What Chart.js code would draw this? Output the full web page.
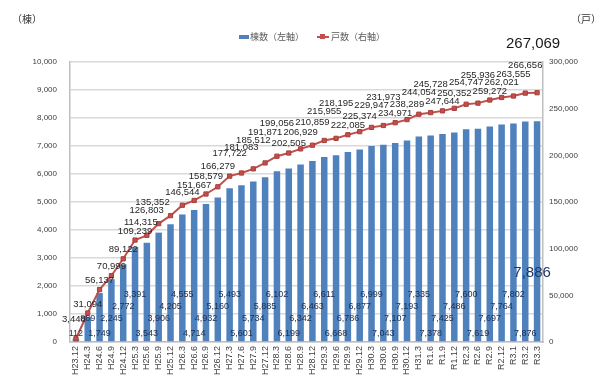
<!DOCTYPE html>
<html lang="ja">
<head>
<meta charset="UTF-8">
<title>棟数・戸数の推移</title>
<script src="https://cdn.jsdelivr.net/npm/chart.js"></script>
<style>
  html, body { margin: 0; padding: 0; background: #fff; }
  #wrap { position: relative; width: 600px; height: 383px; }
  #chart { position: absolute; left: 0; top: 0; }
  .unit { position: absolute; top: 11px; font: 10px "Noto Sans CJK JP"; color: #333; }
  .legend { position: absolute; top: 30px; font: 9px "Noto Sans CJK JP"; color: #595959; white-space: nowrap; }
  .legend span { position: absolute; top: 0; }
</style>
</head>
<body>
<div id="wrap">
  <canvas id="chart" width="600" height="383"></canvas>
  <div class="unit" style="left:12px;">（棟）</div>
  <div class="unit" style="left:571px;">（戸）</div>
  <div class="legend">
    <span style="left:239px;top:5px;width:10px;height:4px;background:#4f81bd;"></span>
    <span style="left:250px;">棟数（左軸）</span>
    <span style="left:317px;top:6px;width:12px;height:2px;background:#c0504d;"></span>
    <span style="left:320px;top:4px;width:5px;height:5px;background:#c0504d;"></span>
    <span style="left:331px;">戸数（右軸）</span>
  </div>
</div>
<script>
// periods (H = 平成, R = 令和)
const periods = ['H23.12', 'H24.3', 'H24.6', 'H24.9', 'H24.12', 'H25.3', 'H25.6', 'H25.9', 'H25.12', 'H26.3',
  'H26.6', 'H26.9', 'H26.12', 'H27.3', 'H27.6', 'H27.9', 'H27.12', 'H28.3', 'H28.6', 'H28.9',
  'H28.12', 'H29.3', 'H29.6', 'H29.9', 'H29.12', 'H30.3', 'H30.6', 'H30.9', 'H30.12', 'H31.3',
  'R1.6', 'R1.9', 'R1.12', 'R2.3', 'R2.6', 'R2.9', 'R2.12', 'R3.1', 'R3.2', 'R3.3'];

// 棟数 (left axis)
const buildings = [112, 889, 1749, 2245, 2772, 3391, 3543, 3906, 4205, 4555,
  4714, 4932, 5160, 5493, 5601, 5734, 5885, 6102, 6199, 6342,
  6463, 6611, 6668, 6786, 6877, 6999, 7043, 7107, 7193, 7335,
  7378, 7425, 7486, 7600, 7619, 7697, 7764, 7802, 7876, 7886];

// 戸数 (right axis)
const dwellings = [3448, 31094, 56137, 70999, 89122, 109239, 114315, 126803, 135352, 146544,
  151667, 158579, 166279, 177722, 181083, 185512, 191871, 199056, 202505, 206929,
  210859, 215955, 218195, 222085, 225374, 229947, 231973, 234971, 238289, 244054,
  245728, 247644, 250352, 254747, 255936, 259272, 262021, 263555, 266656, 267069];

const fmt = v => v.toLocaleString('en-US');

// staggered label heights like the original (values on left axis)
const barLabelLevels = [320, 830, 1250, 1700];

function lineLift(i) {
  if (i === 0) return 19;
  if (i <= 8) return i >= 6 ? 13 : 9;
  if (i <= 17) return 13 + (i - 9) * 2.5;
  if (i <= 22) return 10 + (i - 18) * 6.3;
  return 9 + ((i - 23) % 4) * 6.3;
}

const valueLabels = {
  id: 'valueLabels',
  afterDatasetsDraw(chart) {
    const ctx = chart.ctx;
    const yScale = chart.scales.y;
    const bars = chart.getDatasetMeta(0).data;
    const pts = chart.getDatasetMeta(1).data;
    const last = buildings.length - 1;
    ctx.save();
    ctx.textAlign = 'center';
    ctx.textBaseline = 'middle';

    // bar labels
    ctx.font = '9px "Liberation Sans"';
    ctx.fillStyle = '#1f2f4f';
    buildings.forEach((v, i) => {
      if (i === last) return;
      const lvl = i < 2 ? i : (i - 2) % 4;
      ctx.fillText(fmt(v), bars[i].x, yScale.getPixelForValue(barLabelLevels[lvl]));
    });
    ctx.font = '15px "Liberation Sans"';
    ctx.fillStyle = '#1f3864';
    ctx.fillText(fmt(buildings[last]), bars[last].x - 5, yScale.getPixelForValue(2460));

    // line labels
    ctx.font = '9.5px "Liberation Sans"';
    ctx.fillStyle = '#262626';
    dwellings.forEach((v, i) => {
      if (i === last) return;
      const shift = (i >= 6 && i <= 8) ? -(i - 5) * 6 : (i === 0 ? -2 : 0);
      ctx.fillText(fmt(v), pts[i].x + shift, pts[i].y - lineLift(i));
    });
    ctx.font = '15px "Liberation Sans"';
    ctx.fillStyle = '#1a1a1a';
    ctx.fillText(fmt(dwellings[last]), pts[last].x - 4, pts[last].y - 49);
    ctx.restore();
  }
};

new Chart(document.getElementById('chart'), {
  type: 'bar',
  data: {
    labels: periods,
    datasets: [
      {
        type: 'bar',
        label: '棟数（左軸）',
        data: buildings,
        yAxisID: 'y',
        backgroundColor: '#4f81bd',
        barPercentage: 0.55,
        categoryPercentage: 1,
        order: 2
      },
      {
        type: 'line',
        label: '戸数（右軸）',
        data: dwellings,
        yAxisID: 'y1',
        borderColor: '#c0504d',
        borderWidth: 2,
        pointStyle: 'rect',
        pointRadius: 3,
        pointBackgroundColor: '#c0504d',
        pointBorderColor: '#a83f3c',
        pointBorderWidth: 1,
        tension: 0,
        order: 1
      }
    ]
  },
  options: {
    responsive: false,
    animation: false,
    layout: { padding: { top: 62, left: 0, right: 0, bottom: 0 } },
    plugins: { legend: { display: false }, tooltip: { enabled: false } },
    scales: {
      x: {
        grid: { display: false, drawTicks: false },
        border: { display: true, color: '#bfbfbf', width: 1.5 },
        ticks: {
          autoSkip: false, minRotation: 90, maxRotation: 90, padding: 4,
          font: { family: 'Liberation Sans', size: 9 }, color: '#404040'
        },
        afterFit: s => { s.height = 41; }
      },
      y: {
        position: 'left',
        min: 0, max: 10000,
        ticks: {
          stepSize: 1000, padding: 13, callback: v => fmt(v),
          font: { family: 'Liberation Sans', size: 8 }, color: '#404040'
        },
        grid: { color: '#d9d9d9', lineWidth: 1.5, drawTicks: false },
        border: { display: true, color: '#bfbfbf', width: 1.5 },
        afterFit: s => { s.width = 70; }
      },
      y1: {
        position: 'right',
        min: 0, max: 300000,
        ticks: {
          stepSize: 50000, padding: 6, callback: v => fmt(v),
          font: { family: 'Liberation Sans', size: 8 }, color: '#404040'
        },
        grid: { display: false, drawTicks: false },
        border: { display: true, color: '#bfbfbf', width: 1.5 },
        afterFit: s => { s.width = 57; }
      }
    }
  },
  plugins: [valueLabels]
});
</script>
</body>
</html>
